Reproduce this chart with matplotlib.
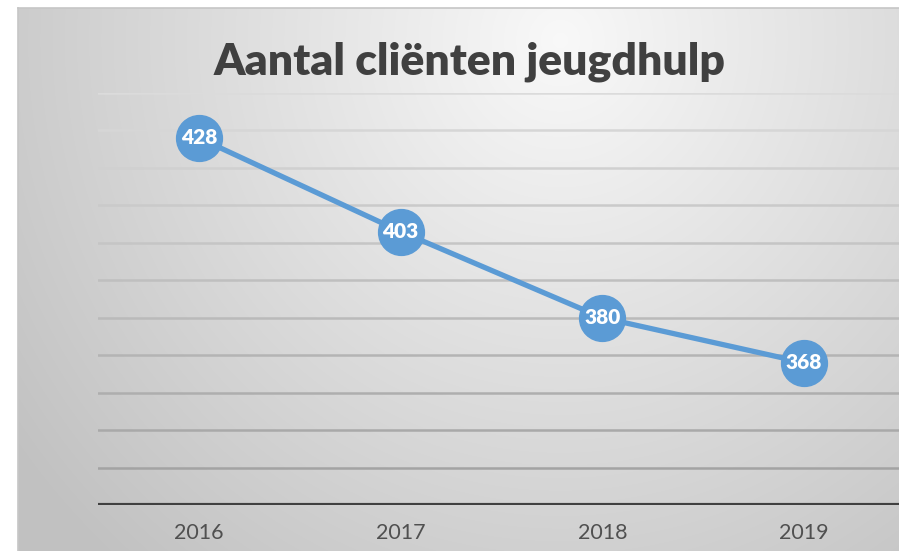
import matplotlib.pyplot as plt
import numpy as np

years = ['2016', '2017', '2018', '2019']
clients = [428, 403, 380, 368]
title = 'Aantal cliënten jeugdhulp'

W, H = 899, 551
fig = plt.figure(figsize=(W / 100, H / 100), dpi=100)
fig.patch.set_facecolor('white')

# chart area background with soft radial gradient
bg = fig.add_axes([18 / W, 0, (W - 18) / W, (H - 8) / H])
yy, xx = np.mgrid[8:H, 18:W]
r = np.sqrt(((xx - 560) / 560.0) ** 2 + ((yy - 40) / 580.0) ** 2)
shade = np.clip(0.975 - 0.18 * r, 0.76, 1.0)
bg.imshow(np.dstack([shade] * 3), extent=(18, W, H, 8), aspect='auto', interpolation='bilinear')
bg.set_xlim(18, W)
bg.set_ylim(H, 8)
bg.set_xticks([])
bg.set_yticks([])
for side in ['right', 'bottom']:
    bg.spines[side].set_visible(False)
for side in ['left', 'top']:
    bg.spines[side].set_color('#c6c6c6')
    bg.spines[side].set_linewidth(1.2)

# plot axes (right edge runs past the figure, as in the cropped original)
ax = fig.add_axes([98 / W, 46 / H, 807 / W, 412 / H])
ax.patch.set_visible(False)
x = np.arange(len(years))
ax.set_xlim(-0.5, len(years) - 0.5)
ax.set_ylim(330, 440)

ticks = np.arange(340, 441, 10)
for t in ticks:
    f = (t - 340) / 100.0
    c = 0.64 + 0.22 * f
    ax.axhline(t, color=(c, c, c), lw=1.8, zorder=1)
ax.axhline(330, color='#404040', lw=3.0, zorder=2)

ax.plot(x, clients, color='#5B9BD5', lw=3.8, zorder=3,
        marker='o', markersize=33, markerfacecolor='#5B9BD5', markeredgecolor='#5B9BD5')
for xi, v in zip(x, clients):
    ax.text(xi, v, str(v), ha='center', va='center', color='white',
            fontsize=15, fontweight='heavy', family='Lato', zorder=4)

ax.set_xticks(x)
ax.set_xticklabels(years, fontsize=15.5, color='#505050', family='Lato')
ax.set_yticks([])
ax.tick_params(axis='x', length=0, pad=13)
for s in ax.spines.values():
    s.set_visible(False)

fig.text(470 / W, 1 - 75 / H, title, ha='center', va='baseline',
         fontsize=32, fontweight='heavy', color='#404040', family='Lato')

fig.savefig('out.png', dpi=100)
